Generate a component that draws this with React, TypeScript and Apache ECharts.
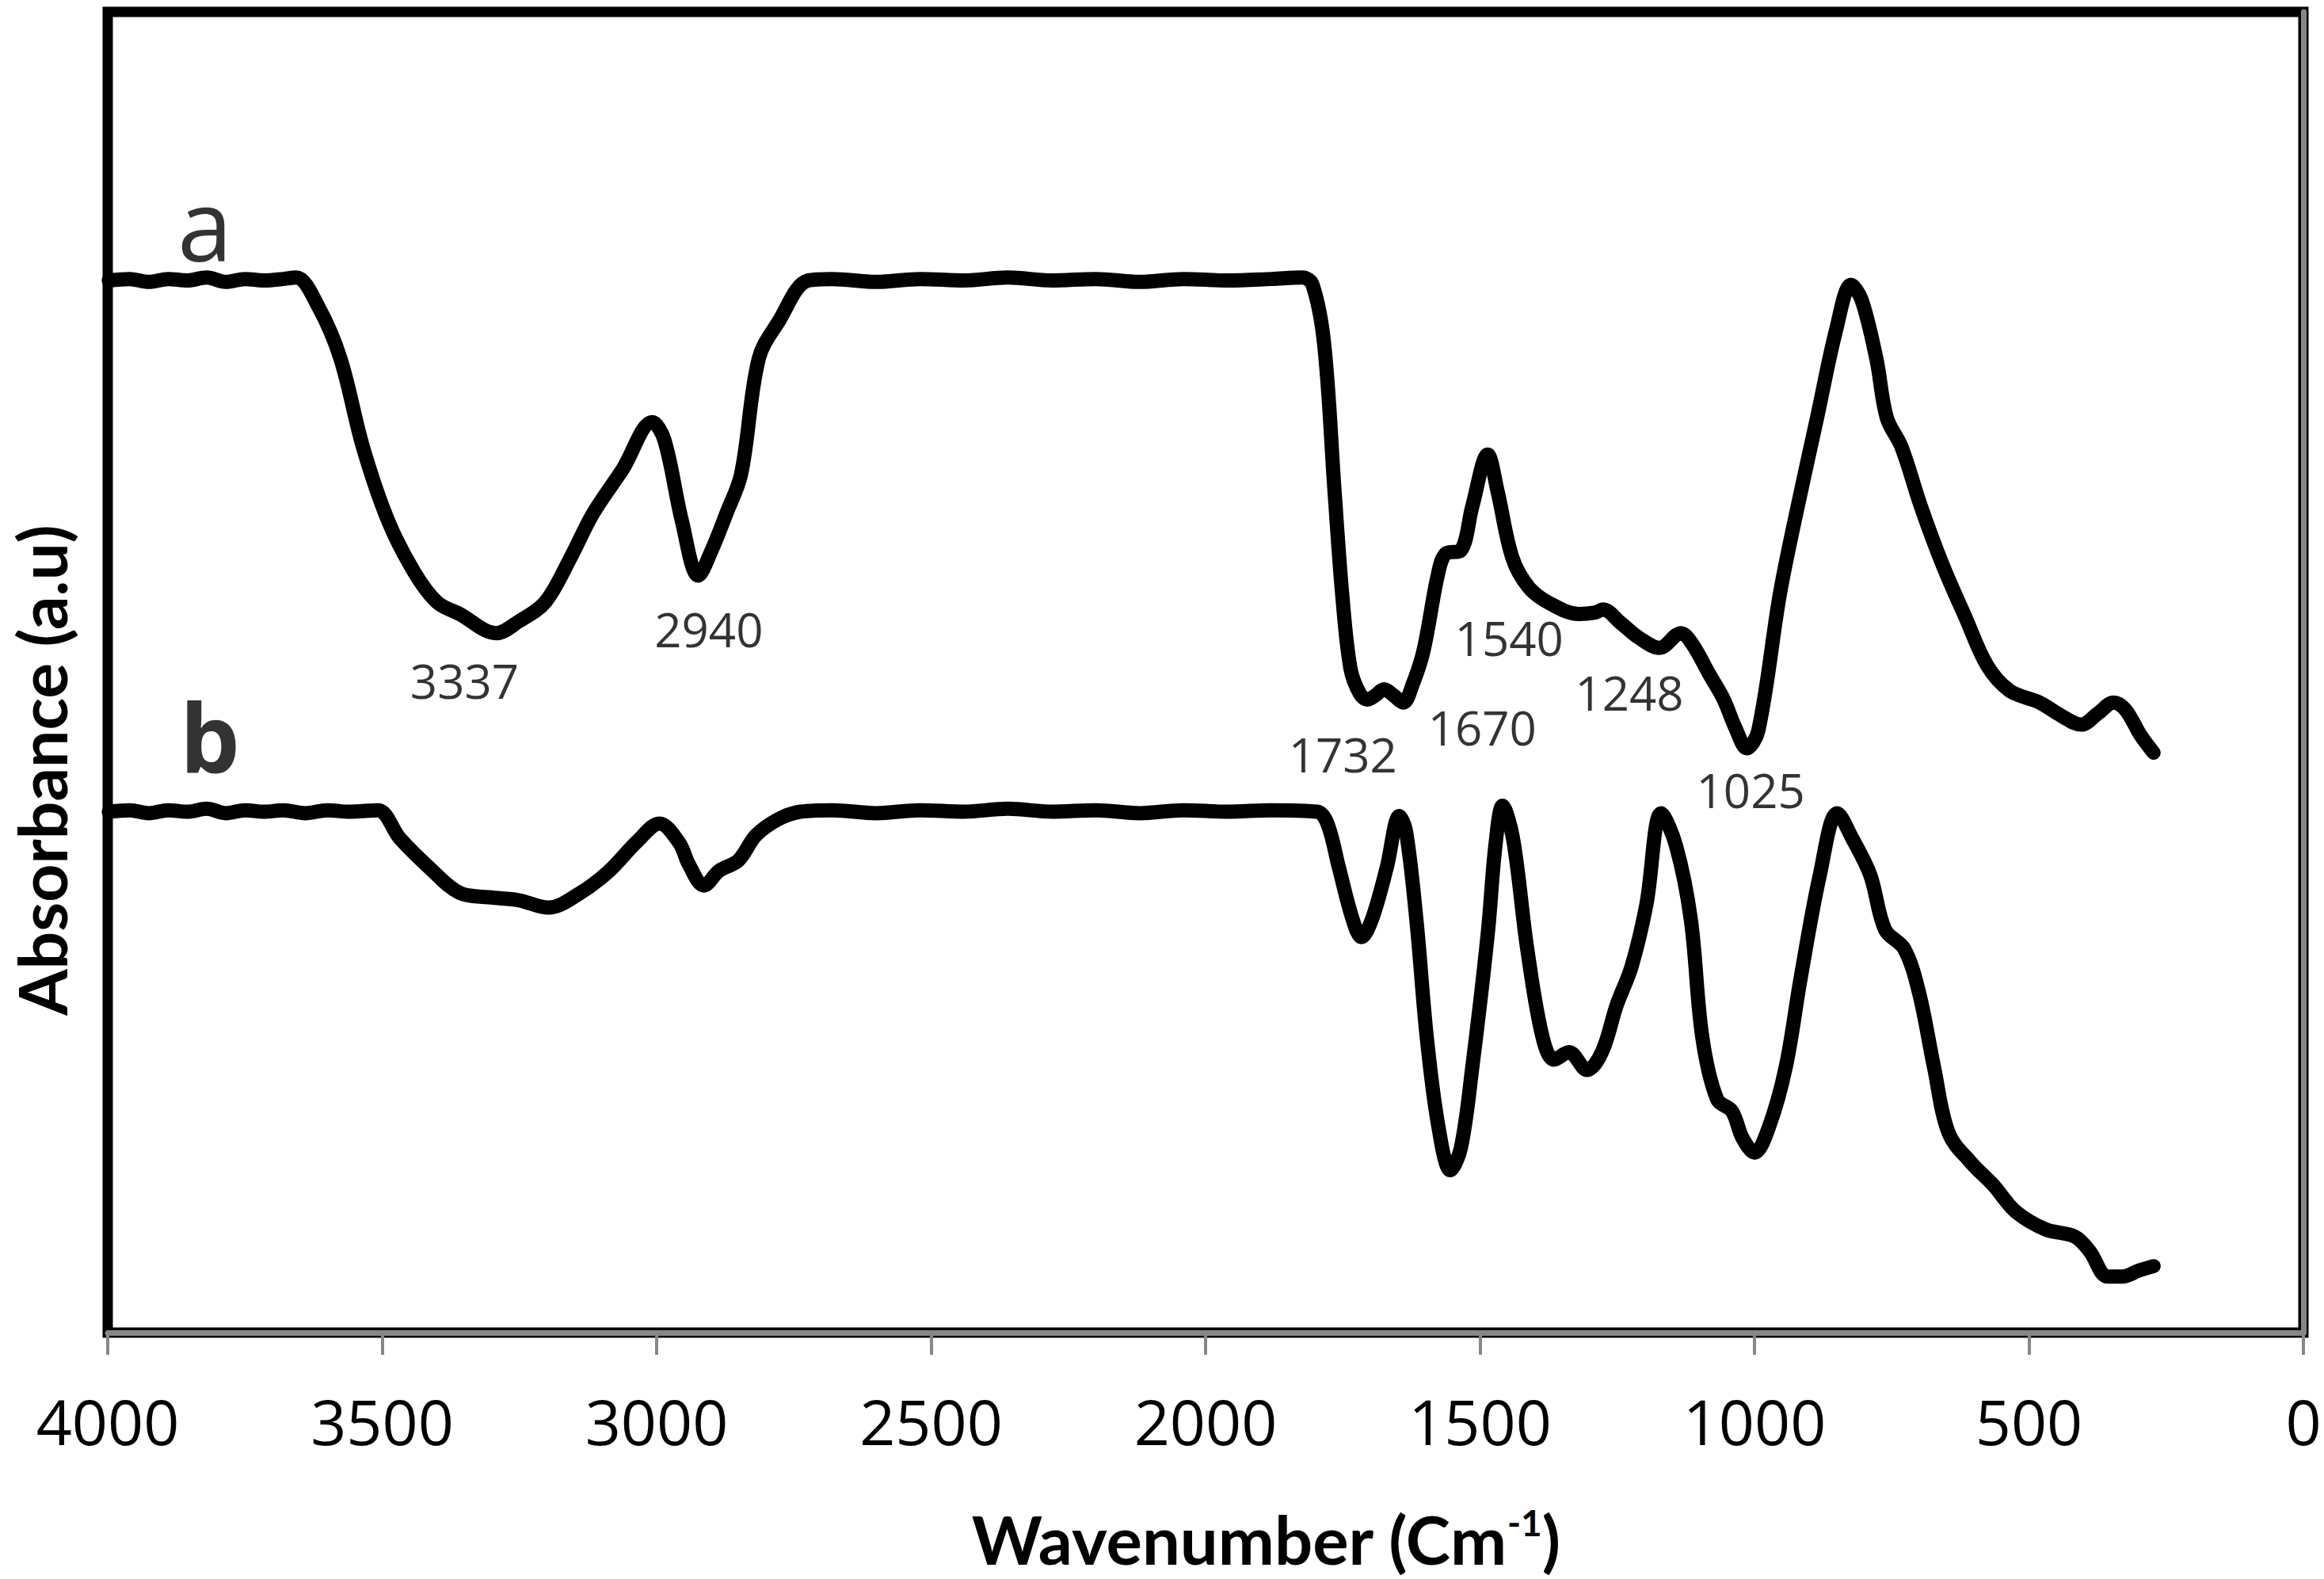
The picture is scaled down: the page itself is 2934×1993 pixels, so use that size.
import React, { useEffect, useRef } from "react";
import * as echarts from "echarts";

// Wavenumber (cm-1) and absorbance (arbitrary units) for spectrum a
const WN_A = [3998, 3960, 3925, 3890, 3855, 3820, 3785, 3750, 3715, 3680, 3657,
  3616, 3576, 3535, 3489, 3441, 3400, 3359, 3292, 3251, 3203, 3157, 3116, 3062, 3008, 2986, 2954, 2924, 2900, 2873, 2846, 2814, 2778, 2724,
  2680, 2600, 2520, 2440, 2360, 2280, 2200, 2120, 2040, 1960, 1880, 1824,
  1805, 1784, 1765, 1751, 1736, 1719, 1705, 1690, 1675, 1658, 1640, 1622, 1603, 1576, 1562, 1535, 1514, 1486, 1468, 1441, 1411, 1372, 1320, 1290, 1276, 1244, 1211, 1173, 1134, 1114, 1082, 1056, 1035, 1014, 993, 954, 927, 886, 851, 824, 805, 778, 759, 732, 697, 657, 616, 576, 535, 481, 441, 405, 373, 346, 324, 297, 273];
const ABS_A = [713, 714, 712, 714, 713, 715, 712, 714, 713, 714, 715,
  695, 660, 600, 550, 515, 495, 487, 474, 482, 495, 525, 555, 585, 617, 605, 550, 513, 530, 555, 582, 660, 685, 713,
  714, 712, 714, 713, 715, 713, 714, 712, 714, 713, 714, 715,
  710, 670, 570, 500, 450, 433, 429, 432, 436, 432, 427, 440, 462, 515, 528, 530, 560, 595, 570, 525, 505, 494, 487, 488, 490, 481, 471, 464, 474, 467, 446, 429, 410, 396, 408, 500, 550, 620, 680, 710, 700, 660, 620, 600, 560, 520, 485, 452, 435, 427, 418, 412, 420, 427, 422, 405, 393];

// Spectrum b
const WN_B = [3998, 3960, 3925, 3890, 3855, 3820, 3785, 3750, 3715, 3680, 3640, 3600, 3560, 3508,
  3468, 3414, 3359, 3305, 3251, 3197, 3143, 3089, 3035, 2995, 2959, 2941, 2914, 2886, 2851, 2819, 2778, 2738,
  2680, 2600, 2520, 2440, 2360, 2280, 2200, 2120, 2040, 1960, 1880, 1797,
  1778, 1757, 1732, 1716, 1697, 1670, 1647, 1635, 1616, 1597, 1576, 1554, 1535, 1514, 1486, 1472, 1459, 1440, 1414, 1386, 1365, 1338, 1305, 1278, 1251, 1224, 1197, 1170, 1143, 1116, 1095, 1068, 1041, 1022, 1000, 973, 943, 916, 881, 849, 822, 789, 762, 727, 700, 673, 646, 605, 565, 524, 470, 416, 389, 357, 330, 300, 273];
const ABS_B = [353, 354, 352, 354, 353, 355, 352, 354, 353, 354, 352, 354, 353, 354,
  335, 315, 298, 295, 293, 288, 297, 312, 333, 345, 332, 317, 303, 313, 320, 337, 348, 353,
  354, 352, 354, 353, 355, 353, 354, 352, 354, 353, 354, 353,
  345, 315, 280, 268, 280, 315, 350, 340, 280, 200, 140, 110, 125, 180, 270, 330, 357, 335, 260, 200, 185, 190, 178, 190, 222, 248, 290, 352, 330, 280, 200, 158, 150, 132, 122, 140, 180, 240, 310, 352, 335, 310, 273, 260, 230, 180, 135, 115, 100, 82, 70, 65, 55, 38, 38, 42, 45];

// Peak annotations
const PEAK_TEXT = ["3337", "2940", "1732", "1670", "1540", "1248", "1025"];
const PEAK_WN = [3350, 2905, 1750, 1496, 1447, 1228, 1007];
const PEAK_Y = [442, 477, 392, 410, 471, 434, 368];

// Curve names
const CURVE_TEXT = ["a", "b"];
const CURVE_WN = [3823, 3814];
const CURVE_Y = [752, 404];

const X_TICKS = [0, 500, 1000, 1500, 2000, 2500, 3000, 3500, 4000];

const FONT = "'Open Sans', Lato, sans-serif";
const TITLE_FONT = "Lato, 'Open Sans', sans-serif";

export default function App() {
  const ref = useRef<HTMLDivElement>(null);
  useEffect(() => {
    if (!ref.current) return;
    const chart = echarts.init(ref.current, null, { renderer: "svg" });
    const dataA = WN_A.map((w, i) => [w, ABS_A[i]]);
    const dataB = WN_B.map((w, i) => [w, ABS_B[i]]);
    const peaks = PEAK_TEXT.map((t, i) => ({ name: t, value: [PEAK_WN[i], PEAK_Y[i]] }));
    const names = CURVE_TEXT.map((t, i) => ({ name: t, value: [CURVE_WN[i], CURVE_Y[i]] }));
    chart.setOption({
      animation: false,
      backgroundColor: "#fff",
      grid: {
        left: 136, right: 26, top: 15, bottom: 311,
        show: true, borderColor: "#000", borderWidth: 13, backgroundColor: "transparent",
      },
      xAxis: {
        type: "value", inverse: true, min: 0, max: 4000, interval: 500,
        splitLine: { show: false },
        axisLine: { show: true, onZero: false, lineStyle: { color: "#878787", width: 7 } },
        axisTick: { show: true, length: 28, lineStyle: { color: "#878787", width: 4 } },
        axisLabel: {
          show: true, margin: 72, fontSize: 79, color: "#000", fontFamily: FONT,
          formatter: (v: number) => (X_TICKS.includes(v) ? String(v) : ""),
        },
      },
      yAxis: {
        type: "value", min: 0, max: 895,
        splitLine: { show: false },
        axisLine: { show: true, lineStyle: { color: "#878787", width: 7 } },
        axisTick: { show: false },
        axisLabel: { show: false },
      },
      graphic: [
        {
          type: "text", id: "xtitle", x: 1598, y: 1942,
          style: {
            text: "{t|Wavenumber (Cm}{s|-1}{t|)}",
            textAlign: "center", textVerticalAlign: "middle",
            rich: {
              t: { fontSize: 85, fontWeight: "bold", fontFamily: TITLE_FONT, fill: "#000", lineHeight: 88 },
              s: { fontSize: 46, fontWeight: "bold", fontFamily: TITLE_FONT, fill: "#000", lineHeight: 52, verticalAlign: "top" },
            },
          },
        },
        {
          type: "text", id: "ytitle", x: 52, y: 972, rotation: Math.PI / 2,
          style: {
            text: "Absorbance (a.u)", fontSize: 84, fontWeight: "bold", fontFamily: TITLE_FONT,
            lineHeight: 76, fill: "#000", textAlign: "center", textVerticalAlign: "middle",
          },
        },
      ],
      series: [
        {
          type: "line", data: dataA, smooth: 0.35, showSymbol: false, symbol: "none",
          lineStyle: { color: "#000", width: 18, cap: "round", join: "round" },
        },
        {
          type: "line", data: dataB, smooth: 0.35, showSymbol: false, symbol: "none",
          lineStyle: { color: "#000", width: 18, cap: "round", join: "round" },
        },
        {
          type: "scatter", data: peaks, symbolSize: 1, itemStyle: { color: "transparent" },
          label: {
            show: true, position: "inside", formatter: "{b}", fontSize: 60, color: "#000",
            fontFamily: FONT, textBorderWidth: 0, textBorderColor: "transparent",
          },
        },
        {
          type: "scatter", data: names, symbolSize: 1, itemStyle: { color: "transparent" },
          label: {
            show: true, position: "inside", color: "#000", fontFamily: FONT,
            textBorderWidth: 0, textBorderColor: "transparent",
            formatter: (p: any) => (p.dataIndex === 0 ? "{a|" + p.name + "}" : "{b|" + p.name + "}"),
            rich: {
              a: { fontSize: 125, fontWeight: "normal", fontFamily: FONT, color: "#000" },
              b: { fontSize: 120, fontWeight: "bold", fontFamily: FONT, color: "#000" },
            },
          },
        },
      ],
    });
    return () => chart.dispose();
  }, []);
  return <div ref={ref} style={{ position: "fixed", left: 0, top: 0, width: 2934, height: 1993, background: "#fff" }} />;
}
